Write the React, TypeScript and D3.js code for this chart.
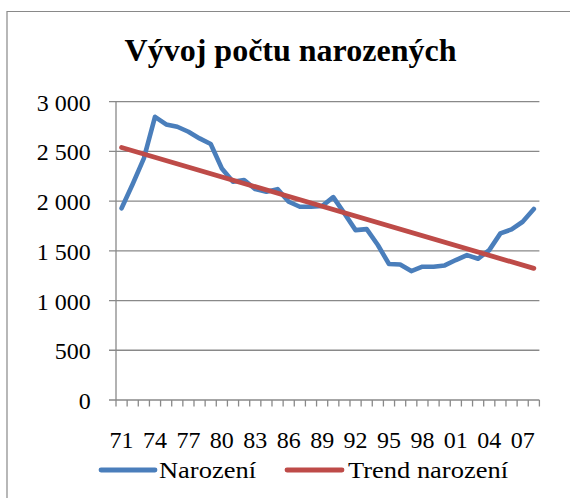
import React from "react";
import * as d3 from "d3";

const years: string[] = [
  "71","72","73","74","75","76","77","78","79","80","81","82","83","84","85","86","87","88","89",
  "90","91","92","93","94","95","96","97","98","99","00","01","02","03","04","05","06","07","08",
];
const births: number[] = [
  1927, 2172, 2429, 2847, 2771, 2747, 2697, 2630, 2573, 2328, 2194, 2211, 2120, 2093, 2120, 1993,
  1943, 1943, 1950, 2040, 1876, 1708, 1718, 1558, 1367, 1363, 1296, 1340, 1340, 1353, 1407, 1457,
  1420, 1507, 1675, 1715, 1792, 1920,
];
const trendYears: string[] = ["71", "08"];
const trendValues: number[] = [2539, 1323];
const tickLabels: string[] = ["71","74","77","80","83","86","89","92","95","98","01","04","07"];
const yTicks: number[] = [0, 500, 1000, 1500, 2000, 2500, 3000];
const seriesNames: string[] = ["Narození", "Trend narození"];
const seriesColors: string[] = ["#4A7EBB", "#BE4B48"];
const title = "Vývoj počtu narozených";

const W = 570;
const H = 498;
const FONT = "'Liberation Serif', 'Times New Roman', Times, serif";
const GRID = "#898989";

function fmt(v: number): string {
  const s = String(v);
  return s.length > 3 ? s.slice(0, s.length - 3) + " " + s.slice(-3) : s;
}

const txt: React.CSSProperties = { fontFamily: FONT };

export default function App() {
  const x = d3.scaleBand<string>().domain(years).range([116, 539.4]).paddingInner(0).paddingOuter(0);
  const y = d3.scaleLinear().domain([0, 3000]).range([400, 101.6]);
  const cx = (k: string) => (x(k) as number) + x.bandwidth() / 2;

  const line = d3
    .line<number>()
    .x((_, i) => cx(years[i]))
    .y((d) => y(d));
  const trendLine = d3
    .line<number>()
    .x((_, i) => cx(trendYears[i]))
    .y((d) => y(d));

  const tickXs = years.map((k) => x(k) as number).concat([x.range()[1]]);

  return (
    <svg
      width={W}
      height={H}
      style={{ position: "absolute", left: 0, top: 0, background: "#fff", fontFamily: FONT }}
    >
      <rect x={0} y={0} width={W} height={H} fill="#fff" />
      <path d={`M7,${H + 2}V11.5H${W + 2}`} fill="none" stroke={GRID} strokeWidth={1.2} />

      <text x={290.5} y={61} textAnchor="middle" fontSize={32} fontWeight="bold" fill="#000" style={txt}>
        {title}
      </text>

      {yTicks.map((t) => (
        <g key={t}>
          <line x1={109} x2={539.4} y1={y(t)} y2={y(t)} stroke={GRID} strokeWidth={1.3} />
          <text x={90.7} y={y(t) + 9} textAnchor="end" fontSize={24} fill="#000" style={txt}>
            {fmt(t)}
          </text>
        </g>
      ))}
      <line x1={116} x2={116} y1={y(3000)} y2={y(0)} stroke={GRID} strokeWidth={1.3} />
      {tickXs.map((tx, i) => (
        <line key={i} x1={tx} x2={tx} y1={y(0)} y2={y(0) + 6.5} stroke={GRID} strokeWidth={1.3} />
      ))}
      {tickLabels.map((k) => (
        <text key={k} x={cx(k)} y={448.3} textAnchor="middle" fontSize={24} fill="#000" style={txt}>
          {k}
        </text>
      ))}

      <path d={line(births) || ""} fill="none" stroke={seriesColors[0]} strokeWidth={4.6} strokeLinejoin="round" strokeLinecap="round" />
      <path d={trendLine(trendValues) || ""} fill="none" stroke={seriesColors[1]} strokeWidth={4.8} strokeLinecap="round" />

      <line x1={101} x2={155} y1={470} y2={470} stroke={seriesColors[0]} strokeWidth={4.8} strokeLinecap="round" />
      <text x={159} y={478.3} fontSize={24} fill="#000" style={txt} textLength={97} lengthAdjust="spacingAndGlyphs">
        {seriesNames[0]}
      </text>
      <line x1={287} x2={342} y1={470} y2={470} stroke={seriesColors[1]} strokeWidth={4.8} strokeLinecap="round" />
      <text x={348} y={478.3} fontSize={24} fill="#000" style={txt} textLength={160} lengthAdjust="spacingAndGlyphs">
        {seriesNames[1]}
      </text>
    </svg>
  );
}
